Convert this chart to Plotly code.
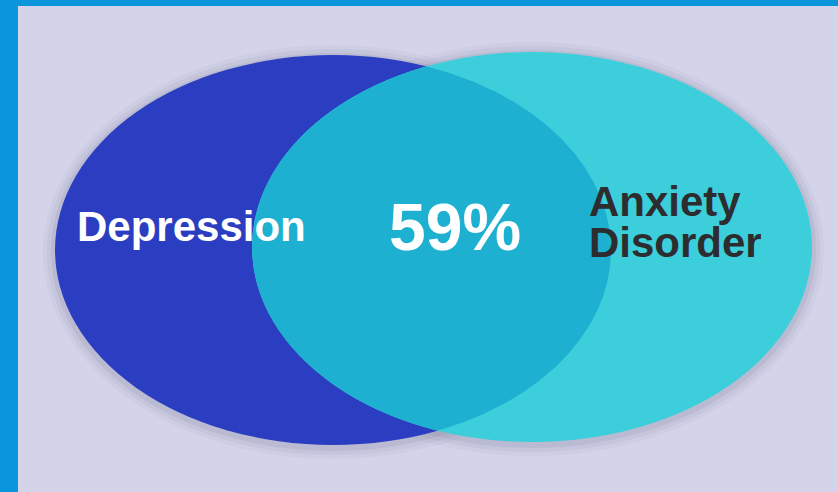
import numpy as np
import plotly.graph_objects as go

# Data
sets = ["Depression", "Anxiety Disorder"]
overlap_label = "59%"
# ellipse geometry (centre x, centre y, radius x, radius y) in pixel-like units
centres_x = [333, 532]
centres_y = [250, 247]
radii_x = [278, 280]
radii_y = [195, 195]
set_colors = ["#2b3ec1", "#3ccfdb"]
overlap_color = "#1db0d1"

W, H = 838, 492

fig = go.Figure()

# soft shadows
shapes = []
for grow, op in [(12, 0.05), (8, 0.07), (4, 0.10)]:
    for i in range(2):
        shapes.append(dict(type="circle", xref="x", yref="y",
                           x0=centres_x[i] - radii_x[i] - grow, x1=centres_x[i] + radii_x[i] + grow,
                           y0=centres_y[i] - radii_y[i] - grow + 2, y1=centres_y[i] + radii_y[i] + grow + 2,
                           fillcolor=f"rgba(100,95,130,{op})", line=dict(width=0), layer="below"))
for i in range(2):
    shapes.append(dict(type="circle", xref="x", yref="y",
                       x0=centres_x[i] - radii_x[i], x1=centres_x[i] + radii_x[i],
                       y0=centres_y[i] - radii_y[i], y1=centres_y[i] + radii_y[i],
                       fillcolor=set_colors[i], line=dict(width=0), layer="below"))


def ray_dist(cx, cy, ex, ey, rx, ry, th):
    dx, dy = np.cos(th), np.sin(th)
    ox, oy = (cx - ex) / rx, (cy - ey) / ry
    ux, uy = dx / rx, dy / ry
    a = ux * ux + uy * uy
    b = 2 * (ox * ux + oy * uy)
    c = ox * ox + oy * oy - 1
    return (-b + np.sqrt(b * b - 4 * a * c)) / (2 * a)


ccx = (centres_x[0] + radii_x[0] + centres_x[1] - radii_x[1]) / 2
ccy = (centres_y[0] + centres_y[1]) / 2
th = np.linspace(0, 2 * np.pi, 720)
r = np.minimum(ray_dist(ccx, ccy, centres_x[0], centres_y[0], radii_x[0], radii_y[0], th),
               ray_dist(ccx, ccy, centres_x[1], centres_y[1], radii_x[1], radii_y[1], th))
fig.add_trace(go.Scatter(x=ccx + r * np.cos(th), y=ccy + r * np.sin(th), mode="lines",
                         fill="toself", fillcolor=overlap_color, line=dict(width=0, color=overlap_color),
                         hoverinfo="skip", showlegend=False))

font = "Liberation Sans, Arial, sans-serif"
annotations = [
    dict(x=191, y=226, text="<b>" + sets[0] + "</b>", showarrow=False,
         font=dict(family=font, size=42, color="white"), xanchor="center", yanchor="middle"),
    dict(x=455, y=227, text="<b>" + overlap_label + "</b>", showarrow=False,
         font=dict(family=font, size=66, color="white"), xanchor="center", yanchor="middle"),
]
words = sets[1].split(" ")
for k, w in enumerate(words):
    annotations.append(dict(x=587, y=201 + 41 * k, text="<b>" + w + "</b>", showarrow=False,
                            font=dict(family=font, size=42, color="#2d2d2f"),
                            xanchor="left", yanchor="middle"))

fig.update_layout(
    width=W, height=H,
    margin=dict(l=18, r=0, t=6, b=0),
    paper_bgcolor="#0b96dc",
    plot_bgcolor="#d3d3e9",
    shapes=shapes,
    annotations=annotations,
    xaxis=dict(range=[18, W], visible=False, fixedrange=True),
    yaxis=dict(range=[H, 6], visible=False, fixedrange=True),
    showlegend=False,
)

fig.write_html("out.html", config={"displayModeBar": False})
